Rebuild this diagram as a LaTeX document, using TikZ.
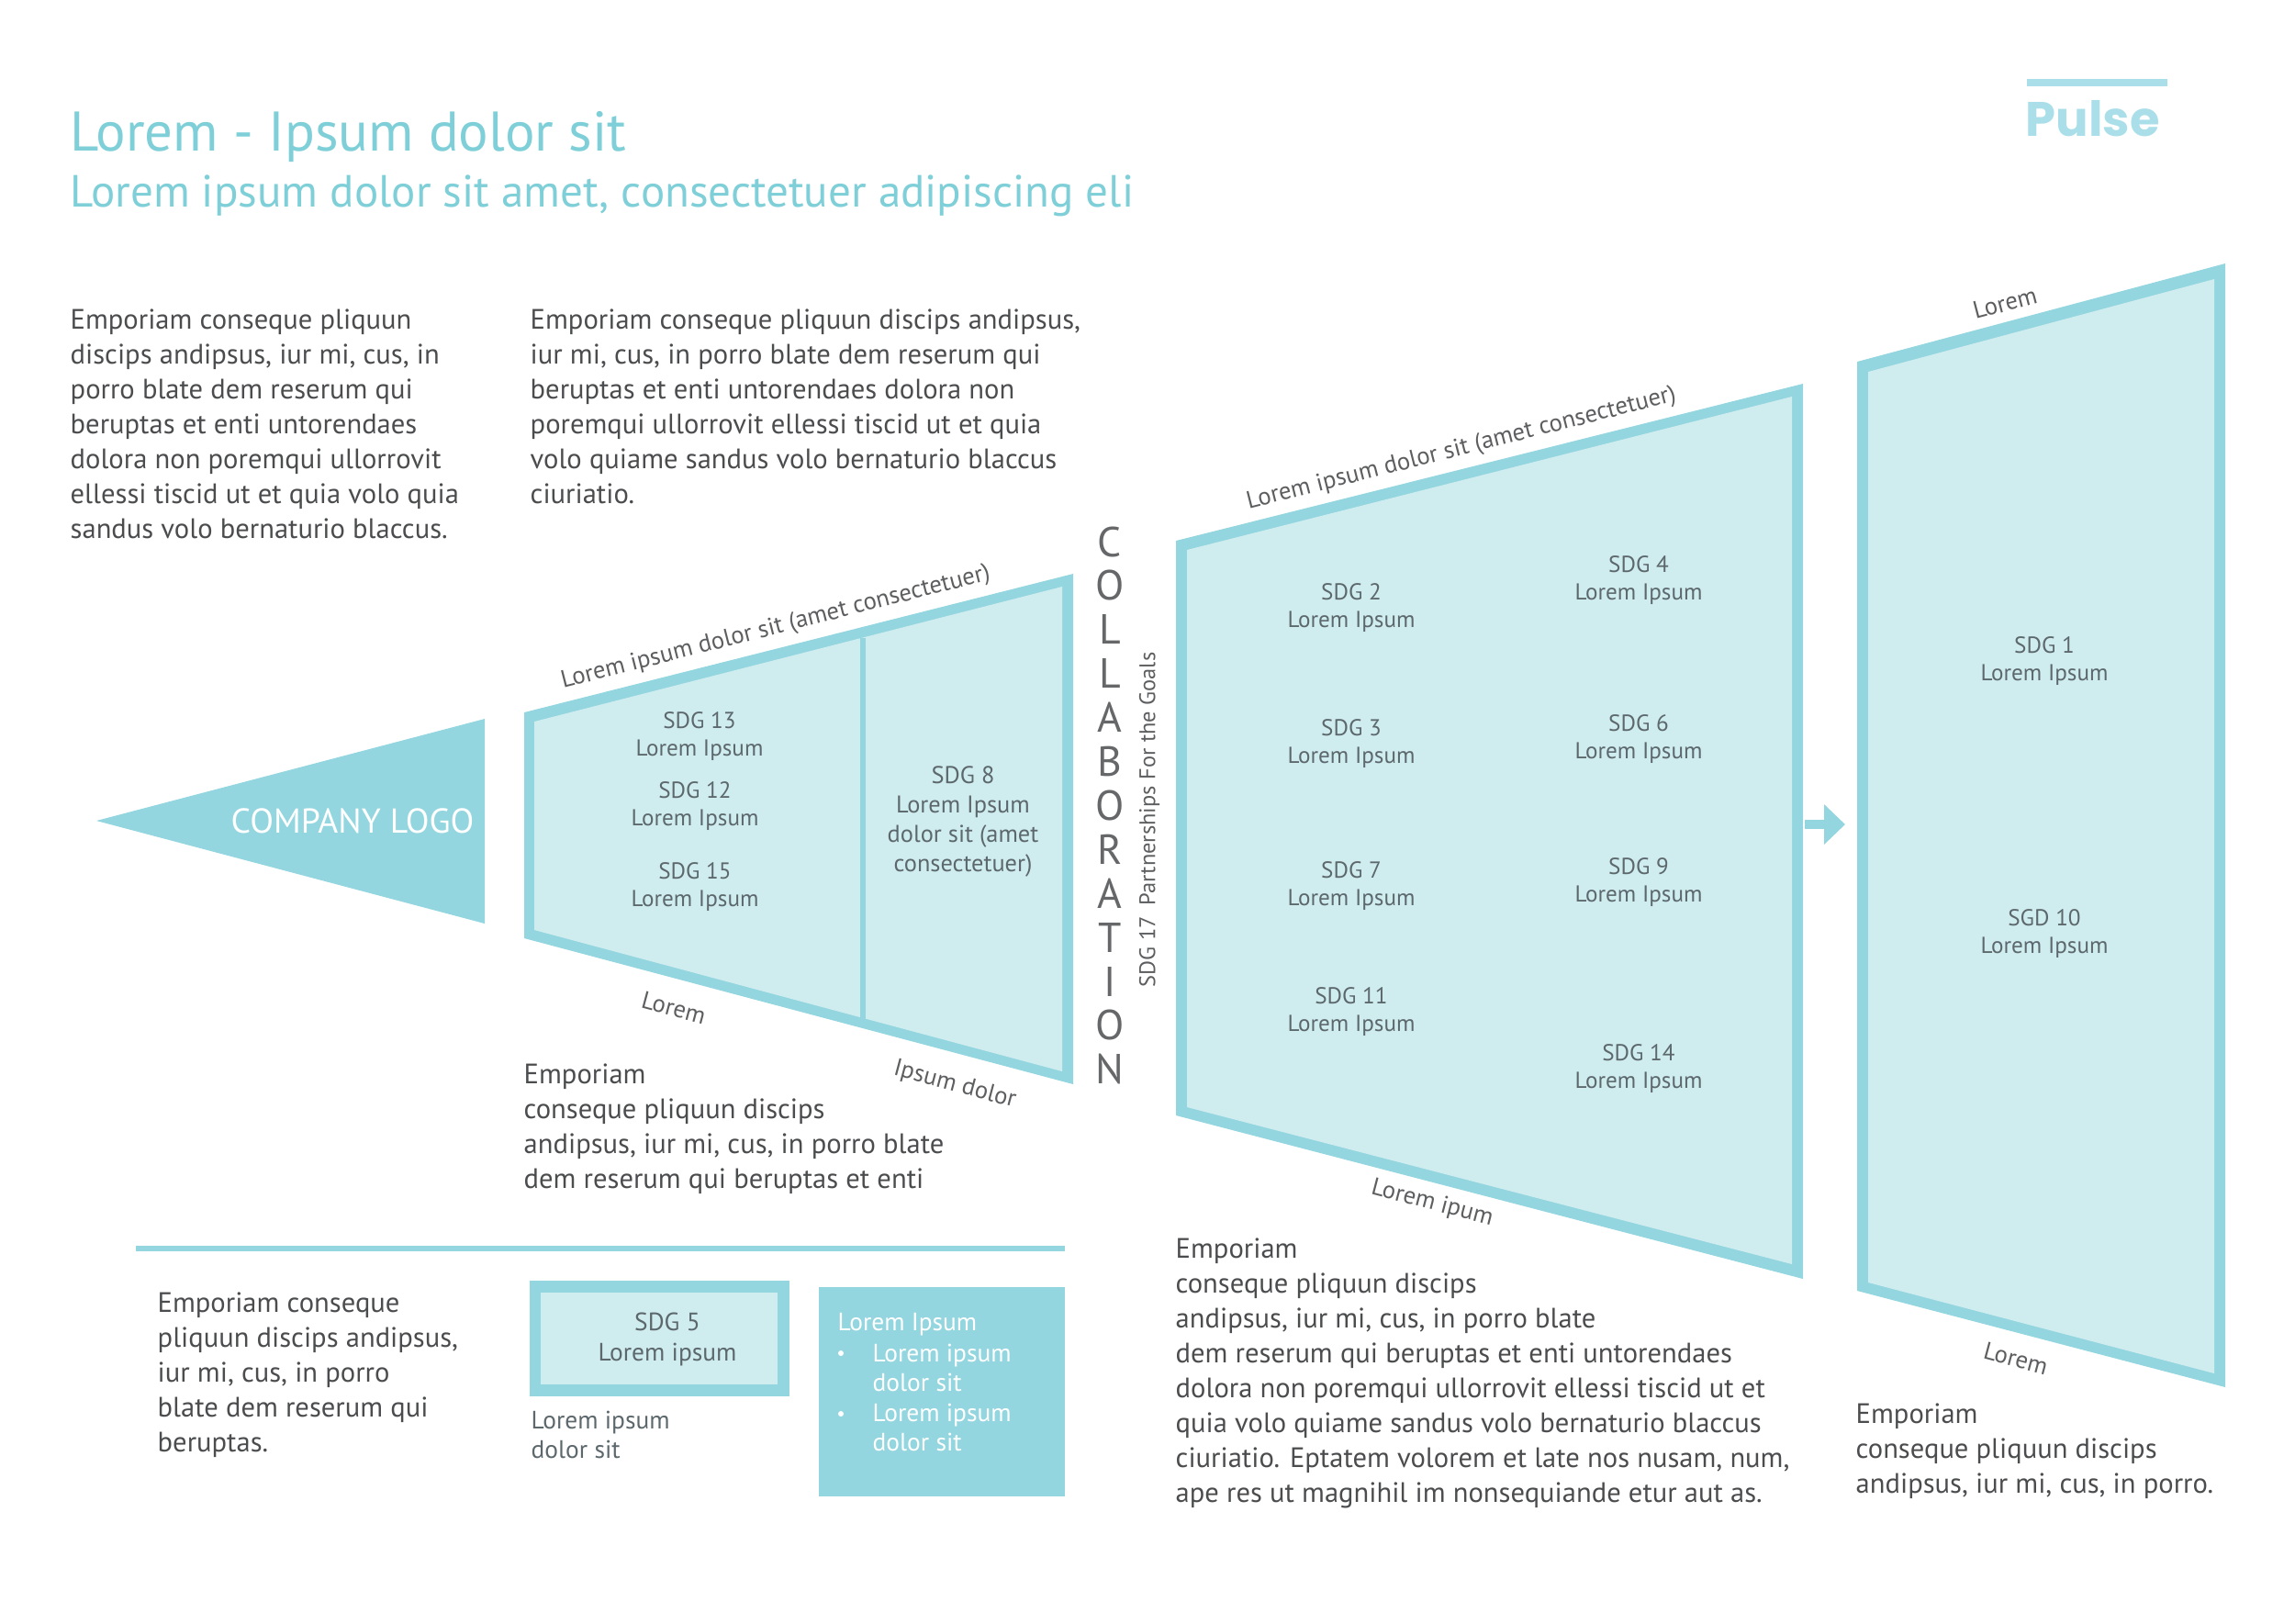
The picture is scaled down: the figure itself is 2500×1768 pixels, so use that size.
\documentclass[tikz,border=0pt]{standalone}
\usepackage{fontspec}
\setmainfont{PT Sans}
\newfontfamily\pulsefont{Poppins}
\usetikzlibrary{arrows.meta, calc}

\definecolor{pulseblue}{HTML}{94D6DF}
\definecolor{paleblue}{HTML}{CFECEF}
\definecolor{titleblue}{HTML}{7FCFD8}
\definecolor{logoblue}{HTML}{AADFEA}
\definecolor{inkgray}{HTML}{4B4C4E}
\definecolor{sdggray}{HTML}{5C686C}

\tikzset{
    bodytext/.style={anchor=west, align=left, inner sep=0pt, text=inkgray, font=\fontsize{8.7}{10.8}\selectfont},
    sdglabel/.style={align=center, inner sep=0pt, text=sdggray, font=\fontsize{7.15}{8.6}\selectfont},
    sidelabel/.style={inner sep=0pt, text=inkgray!90, font=\fontsize{7.6}{8.6}\selectfont},
    listtext/.style={anchor=north west, align=left, inner sep=0pt, text=white, font=\fontsize{7.8}{9.3}\selectfont},
}

\begin{document}
\begin{tikzpicture}[>=Stealth, x=0.01cm, y=-0.01cm]

    \useasboundingbox (0,0) rectangle (2500,1768);

    % Coordinates
    \coordinate (T1) at (571,776);    % Left trapezoid, outer corners
    \coordinate (T2) at (1169,625);
    \coordinate (T3) at (1169,1181);
    \coordinate (T4) at (571,1022);
    \coordinate (M1) at (1281,589);   % Middle trapezoid
    \coordinate (M2) at (1964,418);
    \coordinate (M3) at (1964,1393);
    \coordinate (M4) at (1281,1215);
    \coordinate (R1) at (2023,394);   % Right trapezoid
    \coordinate (R2) at (2424,287);
    \coordinate (R3) at (2424,1511);
    \coordinate (R4) at (2023,1406);

    % 1. Title and logo
    \node[anchor=west, inner sep=0pt, text=titleblue, font=\fontsize{17.3}{20}\selectfont] (title) at (76,149) {Lorem - Ipsum dolor sit};
    \node[anchor=west, inner sep=0pt, text=titleblue, font=\fontsize{13.95}{16}\selectfont] (subtitle) at (76,213) {Lorem ipsum dolor sit amet, consectetuer adipiscing eli};
    \fill[logoblue] (2208,86) rectangle (2361,94);
    \node[anchor=base west, inner sep=0pt, text=logoblue, font=\pulsefont\bfseries\fontsize{15}{18}\selectfont] (pulse) at (2206,148) {Pulse};

    % 2. Top paragraphs
    \node[bodytext] (introa) at (76,462) {Emporiam conseque pliquun\\discips andipsus, iur mi, cus, in\\porro blate dem reserum qui\\beruptas et enti untorendaes\\dolora non poremqui ullorrovit\\ellessi tiscid ut et quia volo quia\\sandus volo bernaturio blaccus.};
    \node[bodytext] (introb) at (577,443) {Emporiam conseque pliquun discips andipsus,\\iur mi, cus, in porro blate dem reserum qui\\beruptas et enti untorendaes dolora non\\poremqui ullorrovit ellessi tiscid ut et quia\\volo quiame sandus volo bernaturio blaccus\\ciuriatio.};

    % 3. Logo triangle
    \fill[pulseblue] (105,894) -- (528,783) -- (528,1006) -- cycle;
    \node[inner sep=0pt, text=white, font=\fontsize{10.7}{12}\selectfont] (logo) at (384,894) {COMPANY LOGO};

    % 4. Left trapezoid
    \fill[pulseblue] (T1) -- (T2) -- (T3) -- (T4) -- cycle;
    \fill[paleblue] (582,786) -- (1157,639) -- (1157,1167) -- (582,1013) -- cycle;
    \fill[pulseblue] (937,695) rectangle (943,1110);
    \node[sidelabel, rotate=14.3] (lefttop) at (845,684) {Lorem ipsum dolor sit (amet consectetuer)};
    \node[sidelabel, rotate=-15] (leftlow) at (734,1098) {Lorem};
    \node[sidelabel, rotate=-15] (leftend) at (1040,1182) {Ipsum dolor};
    \node[sdglabel] (sdg13) at (762,802) {SDG 13\\Lorem Ipsum};
    \node[sdglabel] (sdg12) at (757,878) {SDG 12\\Lorem Ipsum};
    \node[sdglabel] (sdg15) at (757,966) {SDG 15\\Lorem Ipsum};
    \node[sdglabel, font=\fontsize{7.5}{9.1}\selectfont] (sdg8) at (1049,895) {SDG 8\\Lorem Ipsum\\dolor sit (amet\\consectetuer)};
    \node[bodytext] (leftnote) at (570,1230) {Emporiam\\conseque pliquun discips\\andipsus, iur mi, cus, in porro blate\\dem reserum qui beruptas et enti};

    % 5. Collaboration column
    \foreach \letter [count=\i from 0] in {C,O,L,L,A,B,O,R,A,T,I,O,N}
        \node[inner sep=0pt, text=inkgray!85, font=\fontsize{13}{15}\selectfont] (collab\i) at (1209,590+47.9*\i) {\letter};
    \node[sidelabel, rotate=90, font=\fontsize{6.95}{8.6}\selectfont] (sdg17) at (1252,893) {SDG 17\enspace Partnerships For the Goals};

    % 6. Middle trapezoid
    \fill[pulseblue] (M1) -- (M2) -- (M3) -- (M4) -- cycle;
    \fill[paleblue] (1293,599) -- (1952,432) -- (1952,1377) -- (1293,1206) -- cycle;
    \node[sidelabel, rotate=14.2] (midtop) at (1592,489) {Lorem ipsum dolor sit (amet consectetuer)};
    \node[sidelabel, rotate=-14.6] (midlow) at (1560,1311) {Lorem ipum};
    \node[sdglabel] (sdg2) at (1472,662) {SDG 2\\Lorem Ipsum};
    \node[sdglabel] (sdg3) at (1472,810) {SDG 3\\Lorem Ipsum};
    \node[sdglabel] (sdg7) at (1472,965) {SDG 7\\Lorem Ipsum};
    \node[sdglabel] (sdg11) at (1472,1102) {SDG 11\\Lorem Ipsum};
    \node[sdglabel] (sdg4) at (1785,632) {SDG 4\\Lorem Ipsum};
    \node[sdglabel] (sdg6) at (1785,805) {SDG 6\\Lorem Ipsum};
    \node[sdglabel] (sdg9) at (1785,961) {SDG 9\\Lorem Ipsum};
    \node[sdglabel] (sdg14) at (1785,1164) {SDG 14\\Lorem Ipsum};
    \node[bodytext] (midnote) at (1280,1496) {Emporiam\\conseque pliquun discips\\andipsus, iur mi, cus, in porro blate\\dem reserum qui beruptas et enti untorendaes\\dolora non poremqui ullorrovit ellessi tiscid ut et\\quia volo quiame sandus volo bernaturio blaccus\\ciuriatio. Eptatem volorem et late nos nusam, num,\\ape res ut magnihil im nonsequiande etur aut as.};

    % 7. Arrow between the trapezoids
    \coordinate (A) at (1966,898);
    \coordinate (B) at (2010,898);
    \draw[-{Triangle[length=6.5pt,width=12pt]}, pulseblue, line width=2.85pt] (A) -- (B);

    % 8. Right trapezoid
    \fill[pulseblue] (R1) -- (R2) -- (R3) -- (R4) -- cycle;
    \fill[paleblue] (2035,405) -- (2412,304) -- (2412,1496) -- (2035,1397) -- cycle;
    \node[sidelabel, rotate=14.7] (righttop) at (2184,330) {Lorem};
    \node[sidelabel, rotate=-15] (rightlow) at (2196,1480) {Lorem};
    \node[sdglabel] (sdg1) at (2227,720) {SDG 1\\Lorem Ipsum};
    \node[sdglabel] (sgd10) at (2227,1017) {SGD 10\\Lorem Ipsum};
    \node[bodytext] (rightnote) at (2021,1581) {Emporiam\\conseque pliquun discips\\andipsus, iur mi, cus, in porro.};

    % 9. Legend below the rule
    \coordinate (L) at (148,1360);
    \coordinate (K) at (1160,1360);
    \draw[pulseblue, line width=1.7pt] (L) -- (K);
    \node[bodytext] (legendnote) at (171,1498) {Emporiam conseque\\pliquun discips andipsus,\\iur mi, cus, in porro\\blate dem reserum qui\\beruptas.};
    \fill[pulseblue] (577,1395) rectangle (860,1521);
    \fill[paleblue] (589,1408) rectangle (847,1508);
    \node[sdglabel, font=\fontsize{7.8}{9.3}\selectfont] (sdg5) at (727,1459) {SDG 5\\Lorem ipsum};
    \node[bodytext, text=sdggray, font=\fontsize{7.8}{9.3}\selectfont] (boxnote) at (578,1563) {Lorem ipsum\\dolor sit};
    \fill[pulseblue] (892,1402) rectangle (1160,1630);
    \node[listtext] (listhead) at (912,1430) {Lorem Ipsum};
    \node[listtext] (lista) at (950,1463) {Lorem ipsum\\dolor sit};
    \node[listtext] (listb) at (950,1528) {Lorem ipsum\\dolor sit};
    \fill[white] (916,1474) circle (3);
    \fill[white] (916,1540) circle (3);

\end{tikzpicture}
\end{document}
